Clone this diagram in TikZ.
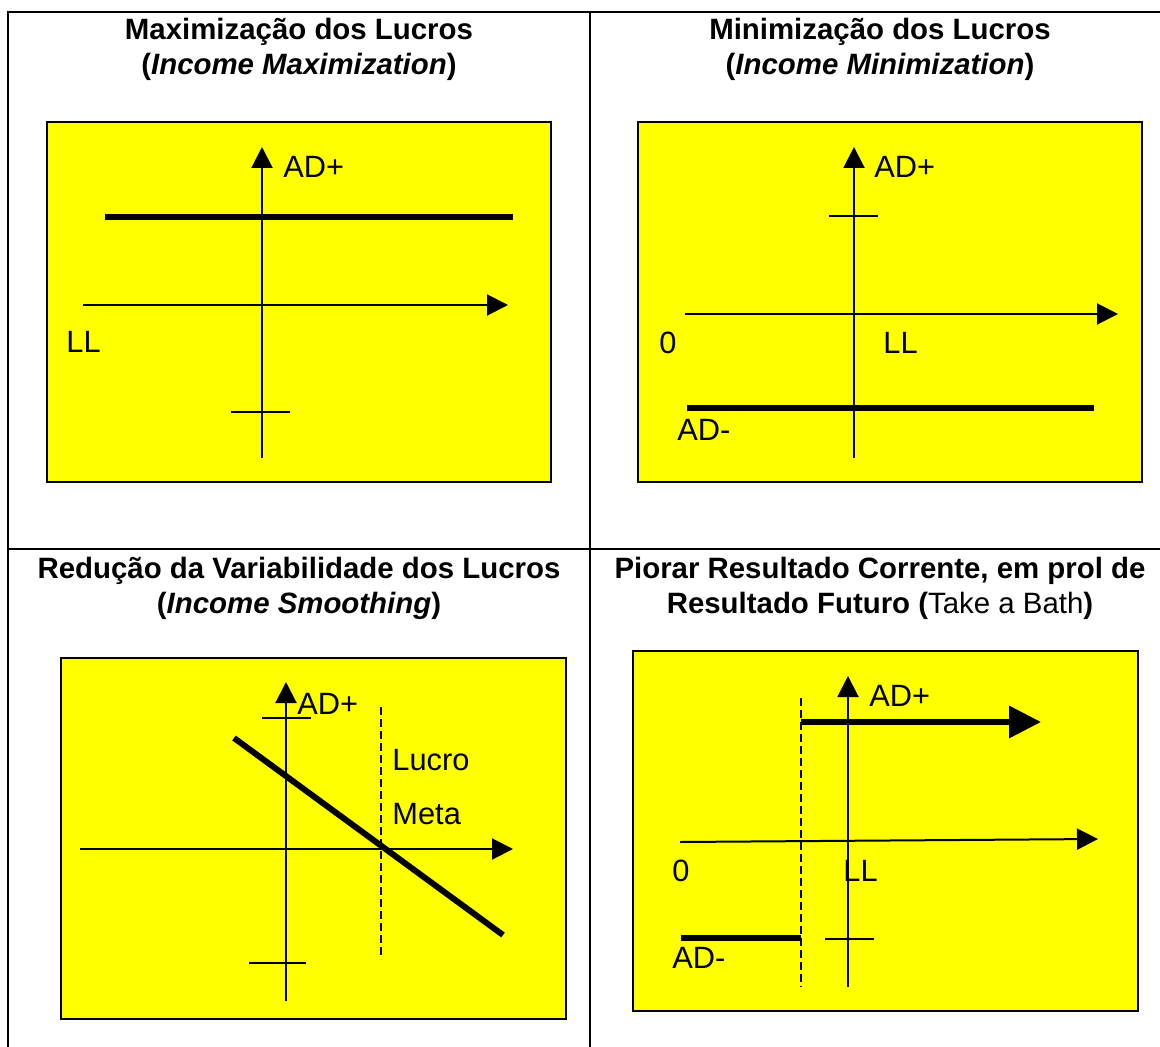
\documentclass[tikz,border=0pt]{standalone}
\usepackage{fontspec}
\setmainfont{Liberation Sans}
\usetikzlibrary{arrows.meta}
\definecolor{panelyellow}{RGB}{255,255,0}

\begin{document}
\begin{tikzpicture}[
		x=0.5pt, y=-0.5pt,
		grid/.style={line width=1pt, draw=black},
		panel/.style={draw=black, line width=1.2pt, fill=panelyellow},
		title/.style={anchor=north, align=center, inner sep=0pt,
			font=\fontsize{14.7}{17.3}\selectfont\bfseries},
		lbl/.style={anchor=west, inner sep=0pt, font=\fontsize{15.4}{18}\selectfont},
		axis/.style={line width=1pt, -{Triangle[length=10.5pt, width=10.5pt]}},
		tick/.style={line width=1pt},
		level/.style={line width=3pt},
		target/.style={line width=0.8pt, dash pattern=on 4pt off 2pt}
	]
		\useasboundingbox (0,0) rectangle (1160,1047);
		\fill[white] (0,0) rectangle (1160,1047);

		% table
		\draw[grid] (8,1047) -- (8,12) -- (1160,12);
		\draw[grid] (590,12) -- (590,1047);
		\draw[grid] (8,549) -- (1160,549);

		\node[title] (maxTitle) at (299,18) {Maximização dos Lucros\\(\textit{Income Maximization})};
		\node[title] (minTitle) at (880,18) {Minimização dos Lucros\\(\textit{Income Minimization})};
		\node[title] (smoothTitle) at (299,557) {Redução da Variabilidade dos Lucros\\(\textit{Income Smoothing})};
		\node[title] (bathTitle) at (880,557) {Piorar Resultado Corrente, em prol de\\Resultado Futuro ({\mdseries Take a Bath})};

		% income maximization
		\draw[panel] (47,122) rectangle (551,482);
		\draw[axis] (262,458) -- (262,147);
		\draw[axis] (83,305) -- (508,305);
		\draw[level] (105,217) -- (513,217);
		\draw[tick] (231,412) -- (290,412);
		\node[lbl] (maxAD) at (283,167) {AD+};
		\node[lbl] (maxLL) at (66,342) {LL};

		% income minimization
		\draw[panel] (638,122) rectangle (1142,482);
		\draw[axis] (854,458) -- (854,147);
		\draw[axis] (685,314) -- (1118,314);
		\draw[tick] (829,216) -- (878,216);
		\draw[level] (687,408) -- (1094,408);
		\node[lbl] (minADp) at (874,167) {AD+};
		\node[lbl] (minZero) at (659,343) {0};
		\node[lbl] (minLL) at (883,343) {LL};
		\node[lbl] (minADm) at (677,430) {AD-};

		% income smoothing
		\draw[panel] (61,658) rectangle (566,1019);
		\draw[axis] (286,1001) -- (286,682);
		\draw[axis] (80,849) -- (513,849);
		\draw[tick] (262,718) -- (311,718);
		\draw[tick] (249,963) -- (306,963);
		\draw[target] (381,707) -- (381,959);
		\draw[level] (234,738) -- (503,935);
		\node[lbl] (smoothAD) at (297,704) {AD+};
		\node[lbl] (smoothLucro) at (392,760) {Lucro};
		\node[lbl] (smoothMeta) at (392,814) {Meta};

		% take a bath
		\draw[panel] (633,651) rectangle (1138,1011);
		\draw[axis] (848,987) -- (848,676);
		\draw[axis] (680,842) -- (1098,839);
		\draw[target] (801,698) -- (801,987);
		\draw[level, -{Triangle[length=16pt, width=15.6pt]}] (801,722) -- (1041,722);
		\draw[level] (681,938) -- (801,938);
		\draw[tick] (825,939) -- (874,939);
		\node[lbl] (bathADp) at (869,696) {AD+};
		\node[lbl] (bathZero) at (672,871) {0};
		\node[lbl] (bathLL) at (843,871) {LL};
		\node[lbl] (bathADm) at (672,958) {AD-};
	\end{tikzpicture}
\end{document}
